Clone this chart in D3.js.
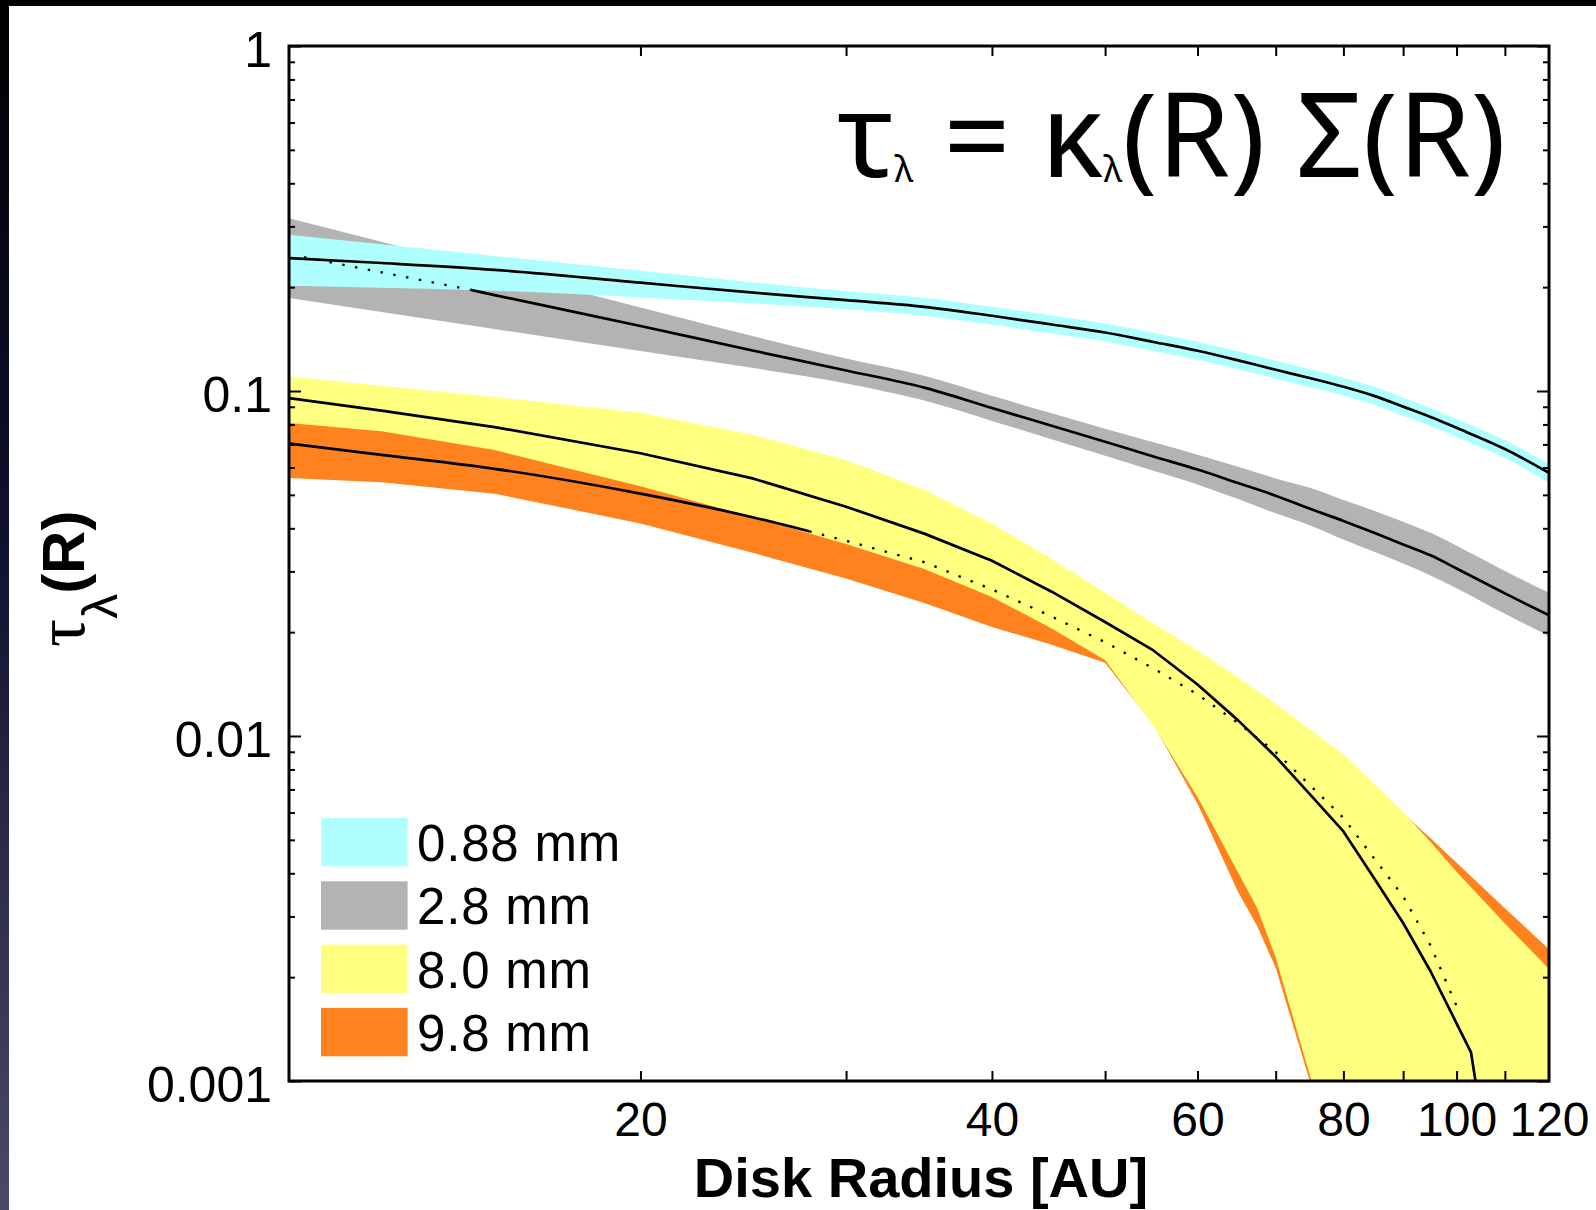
<!DOCTYPE html>
<html>
<head>
<meta charset="utf-8">
<script src="https://cdn.jsdelivr.net/npm/d3@7"></script>
<style>
  html, body { margin: 0; padding: 0; background: #ffffff; }
  svg { display: block; }
</style>
</head>
<body>
<svg id="chart" width="1596" height="1210"></svg>
<script>
// ---- Optical depth bands, tau_lambda(R), per observing wavelength ----

// radial grid for the 0.88 mm and 2.8 mm bands [AU]
const radius = [10, 12, 15, 20, 25, 30, 35, 40, 45, 50, 55, 60, 65, 70, 75, 80, 85, 90, 95, 100, 110, 120];

// 0.88 mm
const cyanHigh = [0.2836, 0.2661, 0.2463, 0.2230, 0.2064, 0.1947, 0.1863, 0.1754, 0.1655, 0.1569, 0.1473, 0.1389, 0.1303, 0.1224, 0.1156, 0.1093, 0.1028, 0.0956, 0.0893, 0.0830, 0.0721, 0.0614];
const cyanMid  = [0.2427, 0.2350, 0.2245, 0.2060, 0.1928, 0.1833, 0.1754, 0.1652, 0.1559, 0.1478, 0.1387, 0.1308, 0.1227, 0.1152, 0.1089, 0.1029, 0.0968, 0.0901, 0.0841, 0.0782, 0.0679, 0.0579];
const cyanLow  = [0.2018, 0.1991, 0.1954, 0.1867, 0.1792, 0.1726, 0.1652, 0.1556, 0.1468, 0.1392, 0.1306, 0.1232, 0.1156, 0.1085, 0.1026, 0.0970, 0.0912, 0.0848, 0.0792, 0.0736, 0.0639, 0.0542];

// 2.8 mm
const grayHigh = [0.3170, 0.2710, 0.2236, 0.1745, 0.1440, 0.1243, 0.1108, 0.0968, 0.0862, 0.0777, 0.0710, 0.0654, 0.0603, 0.0558, 0.0523, 0.0483, 0.0450, 0.0418, 0.0388, 0.0356, 0.0301, 0.0260];
const grayLow  = [0.1859, 0.1695, 0.1512, 0.1305, 0.1165, 0.1052, 0.0938, 0.0819, 0.0725, 0.0649, 0.0587, 0.0536, 0.0486, 0.0442, 0.0407, 0.0371, 0.0342, 0.0316, 0.0292, 0.0268, 0.0226, 0.0195];
const grayLineRadius = [14.3, 15, 20, 25, 30, 35, 40, 45, 50, 55, 60, 65, 70, 75, 80, 85, 90, 95, 100, 110, 120];
const grayLine       = [0.1965, 0.1897, 0.1543, 0.1308, 0.1147, 0.1023, 0.0893, 0.0793, 0.0713, 0.0646, 0.0592, 0.0541, 0.0497, 0.0455, 0.0420, 0.0388, 0.0359, 0.0334, 0.0306, 0.0259, 0.0224];
const grayDotRadius  = [10.3, 14.3];
const grayDot        = [0.2444, 0.1965];

// radial grid for the 8.0 mm and 9.8 mm bands [AU]
const radiusLong = [10, 12, 15, 20, 25, 30, 35, 40, 45, 50, 55, 60, 65, 67.5, 70, 75, 80, 85, 90, 95, 100, 110, 120];

// 8.0 mm
const yellowHigh = [0.1102, 0.1036, 0.0961, 0.0865, 0.0745, 0.0631, 0.0517, 0.0413, 0.0326, 0.0260, 0.0212, 0.0177, 0.0148, 0.01352, 0.0124, 0.0104, 0.00886, 0.00726, 0.00602, 0.00493, 0.00404, 0.00286, 0.00211];
const yellowLow  = [0.0808, 0.0765, 0.0674, 0.0530, 0.0430, 0.0360, 0.0305, 0.0253, 0.0205, 0.0166, 0.0107, 0.00666, 0.00402, 0.00317, 0.00228, 0.00102, 0.0005, 0.0005, 0.0005, 0.0005, 0.0005, 0.0005, 0.0005];
const yellowLineRadius = [10, 12, 15, 20, 25, 30, 35, 40, 45, 50, 55, 60, 65, 70, 75, 80, 85, 90, 95, 100, 102.9, 103.9];
const yellowLine       = [0.0954, 0.0877, 0.0786, 0.0660, 0.0557, 0.0462, 0.0386, 0.0322, 0.0262, 0.0214, 0.0177, 0.0141, 0.0111, 0.00871, 0.00674, 0.00529, 0.00387, 0.00287, 0.00208, 0.00147, 0.00121, 0.00098];

// 9.8 mm
const orangeHigh = [0.0954, 0.0877, 0.0786, 0.0660, 0.0557, 0.0462, 0.0386, 0.0322, 0.0262, 0.0214, 0.0177, 0.0141, 0.01276, 0.01194, 0.01117, 0.00946, 0.00828, 0.00701, 0.00597, 0.00505, 0.00429, 0.00317, 0.00241];
const orangeLow  = [0.0560, 0.0544, 0.0504, 0.0413, 0.0339, 0.0286, 0.0243, 0.0207, 0.0184, 0.0163, 0.0108, 0.00636, 0.00353, 0.00281, 0.00213, 0.00098, 0.0005, 0.0005, 0.0005, 0.0005, 0.0005, 0.0005, 0.0005];
const orangeLineRadius = [10, 12, 15, 20, 25, 27.9];
const orangeLine       = [0.0704, 0.0653, 0.0595, 0.0504, 0.0430, 0.0392];
const orangeDotRadius  = [27.9, 30, 35, 40, 45, 50, 55, 60, 65, 70, 75, 80, 85, 90, 95, 100];
const orangeDot        = [0.0392, 0.0368, 0.0319, 0.0266, 0.0222, 0.0187, 0.0157, 0.0132, 0.0109, 0.00898, 0.00717, 0.00579, 0.00442, 0.00343, 0.00247, 0.00165];

// legend and axis labels
const legendLabels = ["0.88 mm", "2.8 mm", "8.0 mm", "9.8 mm"];
const legendColors = ["#b0ffff", "#b3b3b3", "#ffff80", "#ff821e"];
const xTickLabels = [20, 40, 60, 80, 100, 120];
const xTickMarks = [20, 30, 40, 50, 60, 70, 80, 90, 100, 110];
const yTickLabels = [1, 0.1, 0.01, 0.001];

// ---- layout ----
const W = 1596, H = 1210;
const plot = { left: 289, right: 1549, top: 46, bottom: 1081 };
const svg = d3.select("#chart");

const x = d3.scaleLog().domain([10, 120]).range([plot.left, plot.right]);
const y = d3.scaleLog().domain([0.001, 1]).range([plot.bottom, plot.top]);

// page backdrop: white sheet with a dark edge along the top and left
const defs = svg.append("defs");
const edge = defs.append("linearGradient").attr("id", "edgeShade")
  .attr("x1", 0).attr("y1", 0).attr("x2", 0).attr("y2", 1);
edge.append("stop").attr("offset", "0").attr("stop-color", "#000000");
edge.append("stop").attr("offset", "0.45").attr("stop-color", "#0f1130");
edge.append("stop").attr("offset", "1").attr("stop-color", "#4a4a66");

svg.append("rect").attr("width", W).attr("height", H).attr("fill", "#ffffff");
svg.append("rect").attr("x", 0).attr("y", 0).attr("width", 9).attr("height", H).attr("fill", "url(#edgeShade)");
svg.append("rect").attr("x", 0).attr("y", 0).attr("width", W).attr("height", 6).attr("fill", "#000000");

defs.append("clipPath").attr("id", "plotClip").append("rect")
  .attr("x", plot.left).attr("y", plot.top)
  .attr("width", plot.right - plot.left).attr("height", plot.bottom - plot.top);

const g = svg.append("g").attr("clip-path", "url(#plotClip)");

const zip3 = (rs, lo, hi) => rs.map((r, i) => ({ r, lo: lo[i], hi: hi[i] }));
const zip2 = (rs, vs) => rs.map((r, i) => ({ r, v: vs[i] }));

const smoothArea = d3.area().x(d => x(d.r)).y0(d => y(d.lo)).y1(d => y(d.hi)).curve(d3.curveMonotoneX);
const plainArea = d3.area().x(d => x(d.r)).y0(d => y(d.lo)).y1(d => y(d.hi));
const smoothLine = d3.line().x(d => x(d.r)).y(d => y(d.v)).curve(d3.curveMonotoneX);
const plainLine = d3.line().x(d => x(d.r)).y(d => y(d.v));

// bands, back to front
const bands = [
  { data: zip3(radius, grayLow, grayHigh), color: legendColors[1], gen: smoothArea },
  { data: zip3(radius, cyanLow, cyanHigh), color: legendColors[0], gen: smoothArea },
  { data: zip3(radiusLong, orangeLow, orangeHigh), color: legendColors[3], gen: plainArea },
  { data: zip3(radiusLong, yellowLow, yellowHigh), color: legendColors[2], gen: plainArea }
];
g.selectAll("path.band").data(bands).join("path")
  .attr("class", "band")
  .attr("d", b => b.gen(b.data))
  .attr("fill", b => b.color)
  .attr("stroke", "none");

// best-fit curves
const solid = [
  { d: zip2(radius, cyanMid), gen: smoothLine },
  { d: zip2(grayLineRadius, grayLine), gen: smoothLine },
  { d: zip2(yellowLineRadius, yellowLine), gen: plainLine },
  { d: zip2(orangeLineRadius, orangeLine), gen: smoothLine }
];
g.selectAll("path.fit").data(solid).join("path")
  .attr("class", "fit")
  .attr("d", s => s.gen(s.d))
  .attr("fill", "none")
  .attr("stroke", "#000")
  .attr("stroke-width", 2.7)
  .attr("stroke-linejoin", "round");

const dotted = [zip2(grayDotRadius, grayDot), zip2(orangeDotRadius, orangeDot)];
g.selectAll("path.dots").data(dotted).join("path")
  .attr("class", "dots")
  .attr("d", d => plainLine(d))
  .attr("fill", "none")
  .attr("stroke", "#000")
  .attr("stroke-width", 2.3)
  .attr("stroke-dasharray", "2.4 10.6");

// ---- axes ----
const minorY = [];
[0.001, 0.01, 0.1].forEach(dec => { for (let k = 2; k <= 9; k++) minorY.push(+(dec * k).toPrecision(3)); });

function styleTicks(sel) {
  sel.select(".domain").remove();
  sel.selectAll(".tick line").attr("stroke", "#000").attr("stroke-width", 2);
}

svg.append("g").attr("transform", `translate(${plot.left},0)`)
  .call(d3.axisLeft(y).tickValues(minorY).tickSize(-6).tickFormat(""))
  .call(styleTicks);
svg.append("g").attr("transform", `translate(${plot.right},0)`)
  .call(d3.axisRight(y).tickValues(minorY).tickSize(-6).tickFormat(""))
  .call(styleTicks);
svg.append("g").attr("transform", `translate(${plot.right},0)`)
  .call(d3.axisRight(y).tickValues(yTickLabels).tickSize(-12).tickFormat(""))
  .call(styleTicks);

const yLab = svg.append("g").attr("transform", `translate(${plot.left},0)`)
  .call(d3.axisLeft(y).tickValues(yTickLabels).tickSize(-12).tickPadding(17).tickFormat(d => String(d)))
  .call(styleTicks);
yLab.selectAll(".tick text")
  .attr("font-family", "'Liberation Sans', Arial, sans-serif")
  .attr("font-size", 50).attr("fill", "#000").attr("dy", "0.40em");

svg.append("g").attr("transform", `translate(0,${plot.bottom})`)
  .call(d3.axisBottom(x).tickValues(xTickMarks).tickSize(-10).tickFormat(""))
  .call(styleTicks);
svg.append("g").attr("transform", `translate(0,${plot.top})`)
  .call(d3.axisTop(x).tickValues(xTickMarks).tickSize(-10).tickFormat(""))
  .call(styleTicks);
const xLab = svg.append("g").attr("transform", `translate(0,${plot.bottom})`)
  .call(d3.axisBottom(x).tickValues(xTickLabels).tickSize(0).tickPadding(21).tickFormat(d => String(d)))
  .call(styleTicks);
xLab.selectAll(".tick text")
  .attr("font-family", "'Liberation Sans', Arial, sans-serif")
  .attr("font-size", 48).attr("fill", "#000");

// frame
svg.append("rect")
  .attr("x", plot.left).attr("y", plot.top)
  .attr("width", plot.right - plot.left).attr("height", plot.bottom - plot.top)
  .attr("fill", "none").attr("stroke", "#000").attr("stroke-width", 3);

// axis titles
svg.append("text")
  .attr("x", 921).attr("y", 1197)
  .attr("text-anchor", "middle")
  .attr("font-family", "'Liberation Sans', Arial, sans-serif")
  .attr("font-weight", "bold").attr("font-size", 56)
  .text("Disk Radius [AU]");

const yTitle = svg.append("text")
  .attr("transform", "translate(84,647) rotate(-90)")
  .attr("fill", "#000");
yTitle.append("tspan")
  .attr("font-family", "'Liberation Serif', 'Times New Roman', serif")
  .attr("font-size", 70).text("τ");
yTitle.append("tspan")
  .attr("font-family", "'Liberation Sans', Arial, sans-serif")
  .attr("font-size", 50).attr("dy", 33).text("λ");
yTitle.append("tspan")
  .attr("font-family", "'Liberation Sans', Arial, sans-serif")
  .attr("font-weight", "bold").attr("font-size", 60).attr("dy", -33).text("(R)");

// formula annotation
const formula = svg.append("text")
  .attr("x", 837).attr("y", 177)
  .attr("font-family", "'Noto Sans', 'DejaVu Sans', sans-serif")
  .attr("fill", "#000");
const mainSize = 104, subSize = 32;
formula.append("tspan").attr("class", "big").text("τ");
formula.append("tspan").attr("class", "sub").attr("dy", 5).text("λ");
formula.append("tspan").attr("class", "big").attr("dy", -5).text(" = κ");
formula.append("tspan").attr("class", "sub").attr("dy", 5).text("λ");
formula.append("tspan").attr("class", "big").attr("dy", -5).text("(R) Σ(R)");
formula.selectAll(".big").attr("font-size", mainSize);
formula.selectAll(".sub").attr("font-size", subSize);
// fit the annotation to span the upper-right corner of the axes
const fw = formula.node().getBBox().width;
const s = 669 / fw;
formula.selectAll(".big").attr("font-size", mainSize * s);
formula.selectAll(".sub").attr("font-size", subSize * s);

// legend
const legend = svg.append("g");
legendLabels.forEach((lab, i) => {
  legend.append("rect")
    .attr("x", 321).attr("y", 818 + i * 63.3)
    .attr("width", 86.6).attr("height", 48.4)
    .attr("fill", legendColors[i]);
  legend.append("text")
    .attr("x", 417).attr("y", 861 + i * 63.3)
    .attr("font-family", "'Liberation Sans', Arial, sans-serif")
    .attr("font-size", 51).attr("letter-spacing", 0.8).attr("fill", "#000")
    .text(lab);
});
</script>
</body>
</html>
